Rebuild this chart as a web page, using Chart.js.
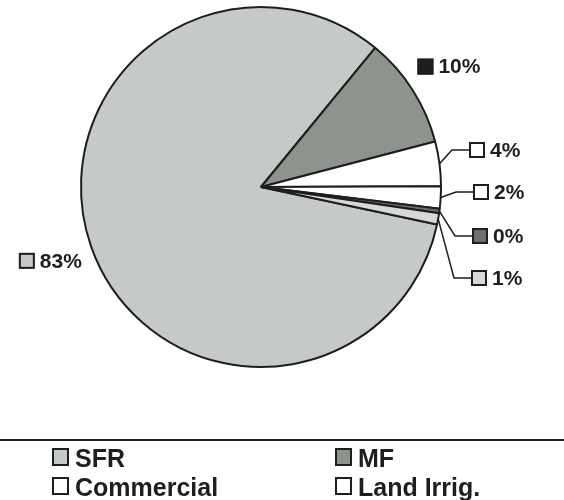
<!DOCTYPE html>
<html>
<head>
<meta charset="utf-8">
<script src="https://cdn.jsdelivr.net/npm/chart.js@4.4.0/dist/chart.umd.min.js"></script>
<style>
  html, body { margin: 0; padding: 0; background: #fff; }
  canvas { display: block; }
</style>
</head>
<body>
<canvas id="pie-chart" width="564" height="500"></canvas>
<script>
// ------------------ DATA -------------------//
const categories = ["SFR", "MF", "Commercial", "Land Irrig.", "Other", "Misc."];
const shares = [82.6, 10, 4, 2, 0.4, 1];
const legendCount = 4; // only the first rows of the legend fit on the page

// ------------------ STYLES -------------------//
const sliceColors = ['#c6cac6', '#8d948e', '#ffffff', '#ffffff', '#6c6e6c', '#d6d9d6'];
const tagColors = ['#c6cac6', '#1e1e1e', '#ffffff', '#ffffff', '#6c6e6c', '#d6d9d6'];
// 'radial' tags sit just outside their slice, the small ones get a box at [x, y] and a leader line
const tagPlacement = ['radial', 'radial', [469, 150], [473, 192], [472, 236], [471, 278]];
const ink = '#1e1e1e';
const fontFamily = '"Liberation Sans", Arial, sans-serif';

// ------------------ PERCENT TAGS -------------------//
const pieLabels = {
    id: 'pieLabels',
    afterDatasetsDraw(chart) {
        const ctx = chart.ctx;
        const arcs = chart.getDatasetMeta(0).data;
        ctx.save();
        ctx.font = 'bold 21px ' + fontFamily;
        ctx.textBaseline = 'middle';
        arcs.forEach((arc, i) => {
            const text = Math.round(shares[i]) + '%';
            const mid = (arc.startAngle + arc.endAngle) / 2;
            const r = arc.outerRadius;
            const tw = ctx.measureText(text).width;
            const place = tagPlacement[i];
            let bx, by;
            if (place === 'radial') {
                const cx = arc.x + Math.cos(mid) * r * 1.24;
                by = arc.y + Math.sin(mid) * r * 1.24;
                bx = cx - (16 + 5 + tw) / 2;
            } else {
                bx = place[0];
                by = place[1];
                const ex = arc.x + Math.cos(mid) * r;
                const ey = arc.y + Math.sin(mid) * r;
                ctx.beginPath();
                ctx.moveTo(ex, ey);
                ctx.lineTo(bx - 17, by);
                ctx.lineTo(bx, by);
                ctx.strokeStyle = ink;
                ctx.lineWidth = 1.5;
                ctx.stroke();
            }
            ctx.fillStyle = tagColors[i];
            ctx.fillRect(bx, by - 8, 16, 16);
            ctx.strokeStyle = ink;
            ctx.lineWidth = 2;
            ctx.strokeRect(bx + 1, by - 7, 14, 14);
            ctx.fillStyle = ink;
            ctx.fillText(text, bx + 21, by + 1);
        });
        ctx.restore();
    }
};

// ------------------ LEGEND BLOCK -------------------//
const legendBlock = {
    id: 'legendBlock',
    afterDraw(chart) {
        const ctx = chart.ctx;
        ctx.save();
        // rule across the top of the legend
        ctx.fillStyle = ink;
        ctx.fillRect(0, 439, chart.width, 2);
        ctx.font = 'bold 25px ' + fontFamily;
        ctx.textBaseline = 'alphabetic';
        for (let i = 0; i < legendCount; i++) {
            const x = (i % 2) ? 335 : 52;
            const y = 448 + Math.floor(i / 2) * 29;
            ctx.fillStyle = sliceColors[i];
            ctx.fillRect(x, y, 17, 18);
            ctx.strokeStyle = ink;
            ctx.lineWidth = 2;
            ctx.strokeRect(x + 1, y + 1, 15, 16);
            ctx.fillStyle = ink;
            ctx.fillText(categories[i], x + 23, y + 19);
        }
        ctx.restore();
    }
};

// ------------------ PIE -------------------//
const pieCanvas = document.getElementById('pie-chart');
let pieChart = new Chart(pieCanvas, {
    type: 'pie',
    data: {
        labels: categories,
        datasets: [{
            data: shares,
            backgroundColor: sliceColors,
            borderColor: ink,
            borderWidth: 2
        }]
    },
    options: {
        responsive: false,
        animation: false,
        rotation: 102,
        layout: {
            padding: { left: 80, right: 122, top: 6, bottom: 132 }
        },
        plugins: {
            legend: { display: false },
            tooltip: { enabled: false }
        }
    },
    plugins: [pieLabels, legendBlock]
});
</script>
</body>
</html>
